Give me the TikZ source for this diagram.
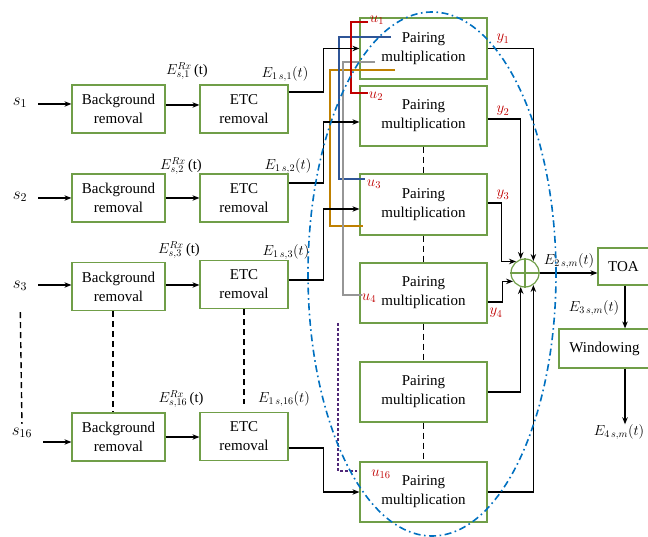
\RequirePackage{fix-cm}
\documentclass[tikz,border=0pt]{standalone}
\usepackage{fontspec}
\setmainfont{Liberation Serif}
\usetikzlibrary{arrows.meta,calc}
\definecolor{boxgreen}{RGB}{112,158,72}
\definecolor{ured}{RGB}{192,0,0}
\definecolor{ublue}{RGB}{47,85,151}
\definecolor{ugray}{RGB}{150,150,150}
\definecolor{uorange}{RGB}{191,128,0}
\definecolor{upurple}{RGB}{80,40,120}
\definecolor{ellblue}{RGB}{0,112,192}
\tikzset{
 blk/.style={draw=boxgreen, line width=1.2pt, rectangle, inner sep=0pt, align=center, font=\fontsize{15}{19}\selectfont},
 bgbox/.style={blk, minimum width=93pt, minimum height=48pt},
 etcbox/.style={blk, minimum width=88pt, minimum height=48pt},
 pbox/.style={blk, minimum width=127pt, minimum height=60pt},
 conn/.style={line width=1.4pt, black},
 arr/.style={conn, -{Stealth[length=7pt,width=5.5pt]}},
 lbl/.style={inner sep=0pt, font=\fontsize{14.5}{16}\selectfont},
 slbl/.style={inner sep=1pt, font=\fontsize{17}{19}\selectfont},
 ulbl/.style={lbl, text=ured, font=\fontsize{15}{17}\selectfont},
 uline/.style={line width=1.2pt},
 dsh/.style={line width=1.4pt, dash pattern=on 6pt off 4pt},
}
\begin{document}
\begin{tikzpicture}[x=1pt,y=-1pt]
\useasboundingbox (0,0) rectangle (648,537);

% left column blocks
\node[bgbox] (BG1) at (118.5,109) {Background\\removal};
\node[bgbox] (BG2) at (118.5,198) {Background\\removal};
\node[bgbox] (BG3) at (118.5,286.5) {Background\\removal};
\node[bgbox] (BG16) at (118.5,437) {Background\\removal};
\node[etcbox] (E1) at (244,109) {ETC\\removal};
\node[etcbox] (E2) at (244,198) {ETC\\removal};
\node[etcbox] (E3) at (244,284.5) {ETC\\removal};
\node[etcbox] (E16) at (244,436.5) {ETC\\removal};

% pairing blocks
\node[pbox, minimum height=61pt] (P1) at (423.5,48.5) {Pairing\\multiplication};
\node[pbox] (P2) at (423.5,116) {Pairing\\multiplication};
\node[pbox, minimum height=61pt] (P3) at (423.5,204.5) {Pairing\\multiplication};
\node[pbox] (P4) at (423.5,293) {Pairing\\multiplication};
\node[pbox] (P5) at (423.5,392) {Pairing\\multiplication};
\node[pbox] (P16) at (423.5,492) {Pairing\\multiplication};

% sum, TOA, windowing
\node[circle, draw=boxgreen, line width=1.2pt, minimum size=28pt, inner sep=0pt] (S) at (525,273) {};
\draw[boxgreen, line width=1.2pt] (S.north) -- (S.south) (S.west) -- (S.east);
\node[blk, minimum width=51pt, minimum height=37pt] (TOA) at (623.5,266.5) {TOA};
\node[blk, minimum width=91pt, minimum height=39pt] (Win) at (604.5,348.5) {Windowing};

% input labels
\node[slbl] (s1) at (20,103) {$s_1$};
\node[slbl] (s2) at (20,197) {$s_2$};
\node[slbl] (s3) at (20,286) {$s_3$};
\node[slbl] (s16) at (22,433) {$s_{16}$};
\coordinate (a1) at (38,104);
\coordinate (a2) at (38,198);
\coordinate (a3) at (38,285);
\coordinate (a16) at (43,442);
\draw[arr] (a1) -- (a1 -| BG1.west);
\draw[arr] (a2) -- (a2 -| BG2.west);
\draw[arr] (a3) -- (a3 -| BG3.west);
\draw[arr] (a16) -- (a16 -| BG16.west);

% BG -> ETC
\draw[arr] ([yshift=4pt]BG1.east) -- ([yshift=4pt]BG1.east -| E1.west);
\draw[arr] (BG2.east) -- (BG2.east -| E2.west);
\draw[arr] ([yshift=1.5pt]BG3.east) -- ([yshift=1.5pt]BG3.east -| E3.west);
\draw[arr] (BG16.east) -- (BG16.east -| E16.west);

% labels above
\node[lbl] (rx1) at (187,71) {$E^{Rx}_{s,1}$\,(t)};
\node[lbl] (rx2) at (181,166) {$E^{Rx}_{s,2}$\,(t)};
\node[lbl] (rx3) at (179,250) {$E^{Rx}_{s,3}$\,(t)};
\node[lbl] (rx16) at (181,399) {$E^{Rx}_{s,16}$\,(t)};
\node[lbl] (e11) at (285,74) {$E_{1\,s,1}(t)$};
\node[lbl] (e12) at (288,166) {$E_{1\,s,2}(t)$};
\node[lbl] (e13) at (286,252) {$E_{1\,s,3}(t)$};
\node[lbl] (e116) at (284,399) {$E_{1\,s,16}(t)$};

% vertical dashed continuation lines
\draw[dsh, shorten <=20pt, shorten >=3pt] (s3.south) -- (s16.north);
\draw[dsh] ([xshift=-5.5pt]BG3.south) -- ([xshift=-5.5pt]BG16.north);
\draw[dsh, shorten >=8pt] (E3.south) -- (E16.north);
\draw[dsh] (P2.south) -- (P3.north);
\draw[dsh] (P3.south) -- (P4.north);
\draw[dsh] (P4.south) -- (P5.north);
\draw[dsh] (P5.south) -- (P16.north);

% coloured u lines
\coordinate (r1) at (368,22);
\coordinate (r2) at (368,93);
\coordinate (b1) at (391,37);
\coordinate (b2) at (365,179);
\coordinate (g1) at (375,62);
\coordinate (g2) at (362,295);
\coordinate (o1) at (395,70);
\coordinate (o2) at (363,226);
\coordinate (pu1) at (338,323);
\coordinate (pu2) at (357,471);
\draw[uline, uorange] (o1) -- ++(-65,0) |- (o2);
\draw[uline, ublue] (b1) -- ++(-52,0) |- (b2);
\draw[uline, ugray] (g1) -- ++(-32,0) |- (g2);
\draw[uline, ured] (r1) -- ++(-17,0) |- (r2);
\draw[uline, upurple, dash pattern=on 3pt off 2pt] (pu1) |- (pu2);

% ETC -> pairing
\draw[arr] ([yshift=17pt]E1.east) -- ++(35,0) |- (P1.west);
\draw[arr] ([yshift=15pt]E2.east) -- ++(35,0) |- ([yshift=-6pt]P2.west);
\draw[arr] ([yshift=4.5pt]E3.east) -- ++(35,0) |- ([yshift=-4.5pt]P3.west);
\draw[arr] ([yshift=-11.5pt]E16.east) -- ++(35,0) |- (P16.west);

% pairing -> sum
\draw[arr] (P1.east) -| (S.55);
\draw[arr] ([yshift=-3pt]P2.east) -| (S.107);
\draw[arr] ([yshift=1.5pt]P3.east) -- ++(14,0) |- (S.128);
\draw[arr] ([yshift=-9pt]P4.east) -- ++(15,0) |- (S.215);
\draw[arr] (P5.east) -| (S.253);
\draw[arr] (P16.east) -| (S.305);

% u / y labels
\node[ulbl] (u1) at (377,20) {$u_1$};
\node[ulbl] (u2) at (376,96) {$u_2$};
\node[ulbl] (u3) at (374,184) {$u_3$};
\node[ulbl] (u4) at (369,298) {$u_4$};
\node[ulbl] (u16) at (381,474) {$u_{16}$};
\node[ulbl] (y1) at (503,39) {$y_1$};
\node[ulbl] (y2) at (503,111) {$y_2$};
\node[ulbl] (y3) at (503,195) {$y_3$};
\node[ulbl] (y4) at (496,313) {$y_4$};

% output chain
\coordinate (wx) at (625,0);
\node[lbl] (E2l) at (569,261) {$E_{2\,s,m}(t)$};
\node[lbl] (E3l) at (594,308) {$E_{3\,s,m}(t)$};
\node[lbl] (E4l) at (619,432) {$E_{4\,s,m}(t)$};
\draw[arr] (S.east) -- (S.east -| TOA.west);
\draw[arr] (TOA.south -| wx) -- (Win.north -| wx);
\draw[arr] (Win.south -| wx) -- (wx |- E4l.north);

% dash-dot ellipse
\draw[ellblue, line width=1.6pt, dash pattern=on 7pt off 3.5pt on 1.6pt off 3.5pt] (432,274) ellipse [x radius=124pt, y radius=262pt];
\end{tikzpicture}
\end{document}
